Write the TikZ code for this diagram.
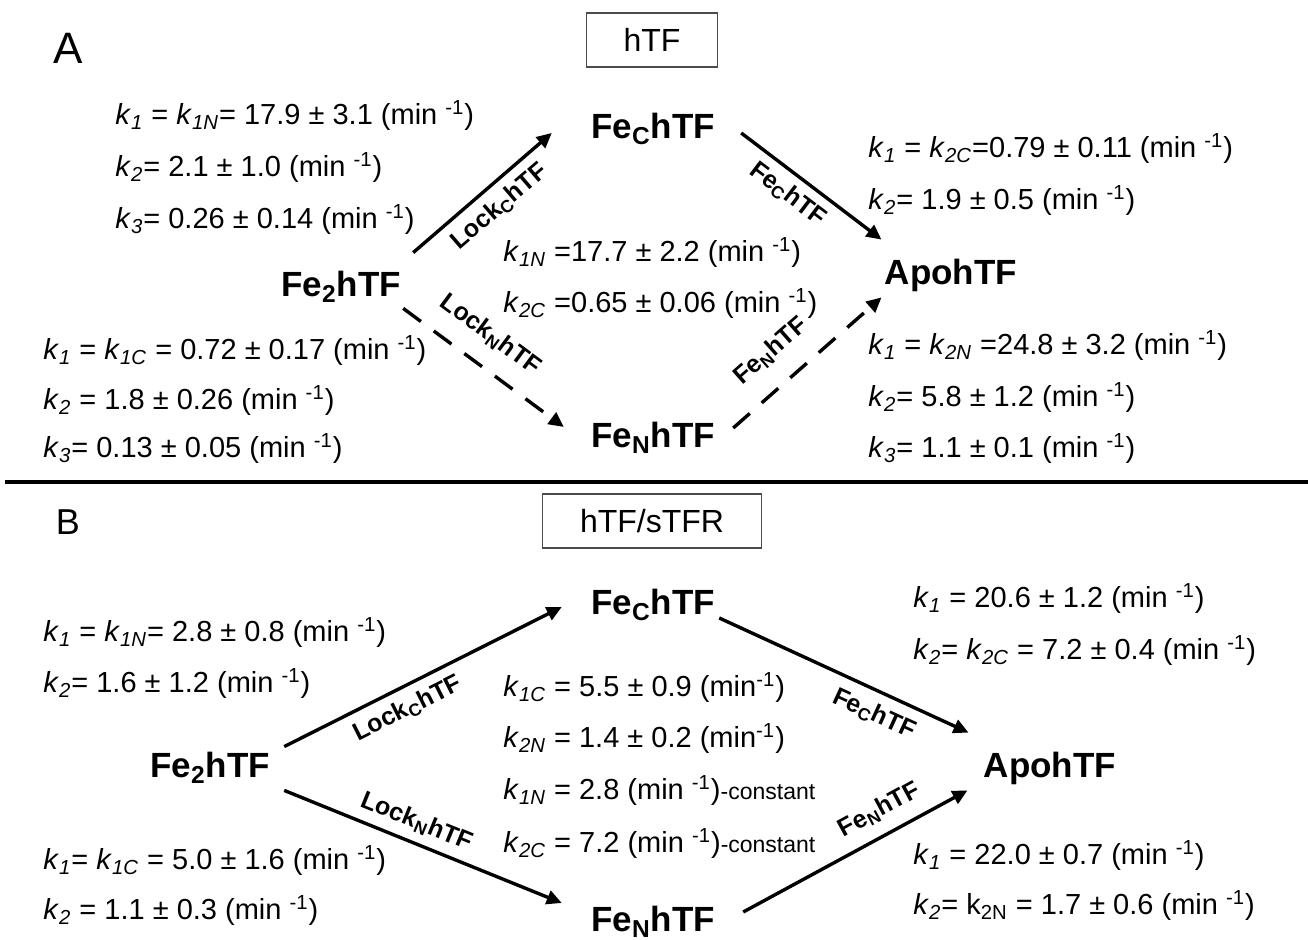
\documentclass[tikz,border=0pt]{standalone}
\usepackage{fontspec}
\setmainfont{Liberation Sans}
\usepackage{tikz}
\usetikzlibrary{arrows.meta}

\newcommand{\kk}[1]{\textit{k}\textsubscript{\textit{#1}}}

\begin{document}
\begin{tikzpicture}[
            x=0.5pt, y=-0.5pt,
            species/.style ={font=\fontsize{17.5}{20}\selectfont\bfseries, inner sep=0pt,
                             text height=12.5pt, text depth=2.5pt, anchor=base},
            rate/.style    ={font=\fontsize{14.5}{16}\selectfont, inner sep=0pt, anchor=base west},
            elab/.style    ={font=\fontsize{12.5}{13}\selectfont\bfseries, inner sep=0pt,
                             text height=9pt, text depth=2pt, sloped},
            tagbox/.style  ={draw=black!70, line width=0.6pt, font=\fontsize{16}{18}\selectfont,
                             minimum height=27pt, inner sep=0pt},
            panel/.style   ={inner sep=0pt, anchor=base},
            arrow/.style   ={-{Triangle[length=7.5pt, width=7pt]}, line width=1.7pt},
            dasharrow/.style={arrow, dash pattern=on 11pt off 8pt}
        ]
        \useasboundingbox (0,0) rectangle (1308,940);

        % panel A
        \node[panel, font=\fontsize{22}{24}\selectfont] (labA) at (68,64) {A};
        \node[tagbox, minimum width=65.5pt] (tagA) at (652,40) {hTF};

        \node[species] (fe2A) at (341,297) {Fe\textsubscript{2}hTF};
        \node[species] (fecA) at (653,139) {Fe\textsubscript{C}hTF};
        \node[species] (fenA) at (653,448) {Fe\textsubscript{N}hTF};
        \node[species] (apoA) at (951,285) {ApohTF};

        \draw[arrow] ([shift={(12,-19)}]fe2A.north east) -- node[elab, below=4.5pt, pos=0.52] {Lock\textsubscript{C}hTF} ([shift={(-39,4)}]fecA.west);
        \draw[arrow] ([shift={(26,4)}]fecA.east) -- node[elab, below=4pt, pos=0.42] {Fe\textsubscript{C}hTF} ([shift={(-3,-20)}]apoA.north west);
        \draw[dasharrow] ([shift={(2,6)}]fe2A.south east) -- node[elab, above=9pt, pos=0.43] {Lock\textsubscript{N}hTF} ([shift={(-27,-11)}]fenA.west);
        \draw[dasharrow] ([shift={(18,-10)}]fenA.east) -- node[elab, above=10pt, pos=0.4] {Fe\textsubscript{N}hTF} ([shift={(-3,7)}]apoA.south west);

        \node[rate] (a1) at (115,125) {\kk{1} = \kk{1N}= 17.9 ± 3.1 (min \textsuperscript{-1})};
        \node[rate] (a2) at (115,177) {\kk{2}= 2.1 ± 1.0 (min \textsuperscript{-1})};
        \node[rate] (a3) at (115,229) {\kk{3}= 0.26 ± 0.14 (min \textsuperscript{-1})};
        \node[rate] (a4) at (43,360) {\kk{1} = \kk{1C} = 0.72 ± 0.17 (min \textsuperscript{-1})};
        \node[rate] (a5) at (43,410) {\kk{2} = 1.8 ± 0.26 (min \textsuperscript{-1})};
        \node[rate] (a6) at (43,458) {\kk{3}= 0.13 ± 0.05 (min \textsuperscript{-1})};
        \node[rate] (a7) at (503,262) {\kk{1N} =17.7 ± 2.2 (min \textsuperscript{-1})};
        \node[rate] (a8) at (503,313) {\kk{2C} =0.65 ± 0.06 (min \textsuperscript{-1})};
        \node[rate] (a9) at (868,158) {\kk{1} = \kk{2C}=0.79 ± 0.11 (min \textsuperscript{-1})};
        \node[rate] (a10) at (868,210) {\kk{2}= 1.9 ± 0.5 (min \textsuperscript{-1})};
        \node[rate] (a11) at (868,355) {\kk{1} = \kk{2N} =24.8 ± 3.2 (min \textsuperscript{-1})};
        \node[rate] (a12) at (868,407) {\kk{2}= 5.8 ± 1.2 (min \textsuperscript{-1})};
        \node[rate] (a13) at (868,458) {\kk{3}= 1.1 ± 0.1 (min \textsuperscript{-1})};

        \draw[line width=1.6pt] (5,482) -- (1308,482);

        % panel B
        \node[panel, font=\fontsize{18}{20}\selectfont] (labB) at (68,535) {B};
        \node[tagbox, minimum width=109.5pt] (tagB) at (652,521) {hTF/sTFR};

        \node[species] (fe2B) at (210,778) {Fe\textsubscript{2}hTF};
        \node[species] (fecB) at (653,615) {Fe\textsubscript{C}hTF};
        \node[species] (fenB) at (653,932) {Fe\textsubscript{N}hTF};
        \node[species] (apoB) at (1050,778) {ApohTF};

        \draw[arrow] ([shift={(14,-6)}]fe2B.north east) -- node[elab, below=4.5pt, pos=0.41] {Lock\textsubscript{C}hTF} ([shift={(-29,2)}]fecB.west);
        \draw[arrow] ([shift={(14,7)}]fe2B.south east) -- node[elab, above=4pt, pos=0.45] {Lock\textsubscript{N}hTF} ([shift={(-29,-19)}]fenB.west);
        \draw[arrow] ([shift={(4,13)}]fecB.east) -- node[elab, below=5pt, pos=0.66] {Fe\textsubscript{C}hTF} ([shift={(-15,-20)}]apoB.north west);
        \draw[arrow] ([shift={(28,-10)}]fenB.east) -- node[elab, above=6pt, pos=0.66] {Fe\textsubscript{N}hTF} ([shift={(-16,7)}]apoB.south west);

        \node[rate] (b1) at (43,642) {\kk{1} = \kk{1N}= 2.8 ± 0.8 (min \textsuperscript{-1})};
        \node[rate] (b2) at (43,693) {\kk{2}= 1.6 ± 1.2 (min \textsuperscript{-1})};
        \node[rate] (b3) at (43,870) {\kk{1}= \kk{1C} = 5.0 ± 1.6 (min \textsuperscript{-1})};
        \node[rate] (b4) at (43,920) {\kk{2} = 1.1 ± 0.3 (min \textsuperscript{-1})};
        \node[rate] (b5) at (503,697) {\kk{1C} = 5.5 ± 0.9 (min\textsuperscript{-1})};
        \node[rate] (b6) at (503,748) {\kk{2N} = 1.4 ± 0.2 (min\textsuperscript{-1})};
        \node[rate] (b7) at (503,800) {\kk{1N} = 2.8 (min \textsuperscript{-1}){\fontsize{11.5}{12}\selectfont -constant}};
        \node[rate] (b8) at (503,853) {\kk{2C} = 7.2 (min \textsuperscript{-1}){\fontsize{11.5}{12}\selectfont -constant}};
        \node[rate] (b9) at (913,608) {\kk{1} = 20.6 ± 1.2 (min \textsuperscript{-1})};
        \node[rate] (b10) at (913,660) {\kk{2}= \kk{2C} = 7.2 ± 0.4 (min \textsuperscript{-1})};
        \node[rate] (b11) at (913,865) {\kk{1} = 22.0 ± 0.7 (min \textsuperscript{-1})};
        \node[rate] (b12) at (913,915) {\kk{2}= k\textsubscript{2N} = 1.7 ± 0.6 (min \textsuperscript{-1})};
        \end{tikzpicture}
\end{document}
